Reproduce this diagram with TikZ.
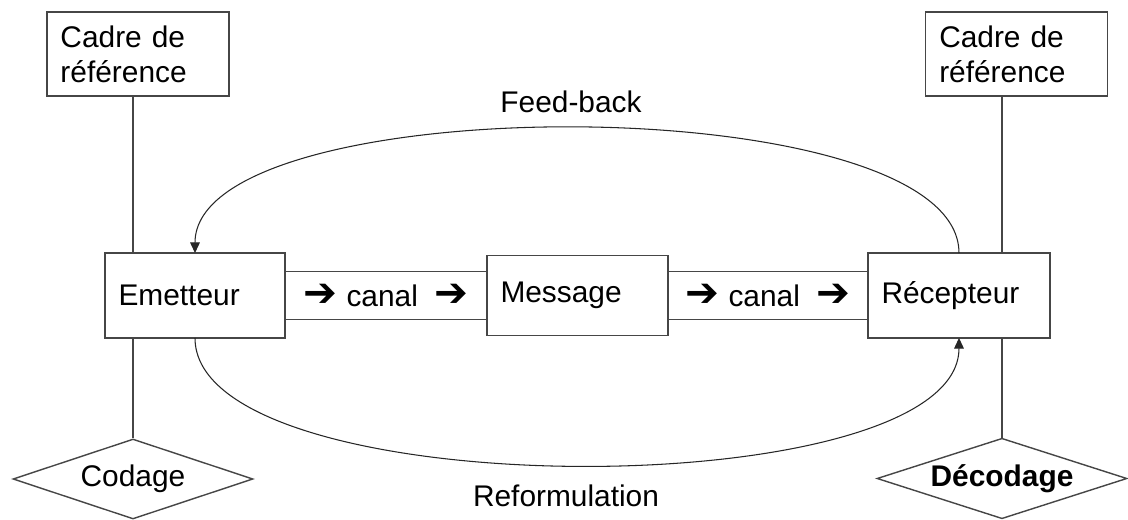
\documentclass[tikz,border=0pt]{standalone}
\usepackage{fontspec}
\setmainfont{Liberation Sans}
\newfontfamily\flechefont{DejaVu Sans}
\usetikzlibrary{positioning,shapes.geometric,arrows.meta}
\definecolor{traitgris}{RGB}{70,70,70}
\newcommand{\fleche}{{\flechefont\bfseries\fontsize{23}{20}\selectfont ➔}}

\begin{document}
\begin{tikzpicture}[
  font=\fontsize{17}{20}\selectfont,
  boite/.style={draw=traitgris, line width=0.8pt, outer sep=0pt, inner xsep=0.27cm, text width=#1, align=left},
  canal/.style={draw=traitgris, line width=0.8pt, outer sep=0pt, inner sep=0pt, minimum width=#1, minimum height=0.96cm},
  losange/.style={draw=traitgris, line width=0.8pt, diamond, aspect=3, inner sep=1pt, minimum width=#1, minimum height=1.6cm},
  trait/.style={draw=traitgris, line width=0.7pt},
  courbe/.style={draw=black!85, line width=0.6pt, -{Triangle[length=6pt,width=5.5pt]}}]

\useasboundingbox (0,0) rectangle (22.56,10.38);

% chaine
\node[boite=3.06cm, minimum height=1.7cm] (emetteur) at (3.9,4.47) {Emetteur};
\node[canal=4.04cm, right=0pt of emetteur] (canal1) {\fleche\hspace{0.3em}canal\hspace{0.55em}\fleche};
\node[boite=3.08cm, minimum height=1.6cm, right=0pt of canal1] (message) {Message};
\node[canal=4.0cm, right=0pt of message] (canal2) {\fleche\hspace{0.3em}canal\hspace{0.55em}\fleche};
\node[boite=3.1cm, minimum height=1.7cm, right=0pt of canal2] (recepteur) {Récepteur};

% cadres de reference
\node[boite=3.1cm, minimum height=1.68cm] (cadreG) at (2.76,9.30) {Cadre de\\référence};
\node[boite=3.09cm, minimum height=1.68cm] (cadreD) at (20.33,9.30) {Cadre de\\référence};

% codage / decodage
\node[losange=4.8cm] (codage) at (2.66,0.8) {Codage};
\node[losange=5.0cm] (decodage) at (20.04,0.81) {\bfseries Décodage};

\coordinate (lienG) at (2.66,0);
\coordinate (lienD) at (20.04,0);

\draw[trait] (cadreG.south -| lienG) -- (emetteur.north -| lienG);
\draw[trait] (emetteur.south -| lienG) -- (codage.north);
\draw[trait] (cadreD.south -| lienD) -- (recepteur.north -| lienD);
\draw[trait] (recepteur.south -| lienD) -- (decodage.north);

% boucles
\draw[courbe] (recepteur.north) to[out=90, in=90, distance=3.33cm] (emetteur.north);
\draw[courbe] (emetteur.south) to[out=-90, in=-90, distance=3.39cm] (recepteur.south);

\node[anchor=base] (feedback) at (11.42,8.14) {Feed-back};
\node[anchor=base] (reformulation) at (11.32,0.26) {Reformulation};
\end{tikzpicture}
\end{document}
